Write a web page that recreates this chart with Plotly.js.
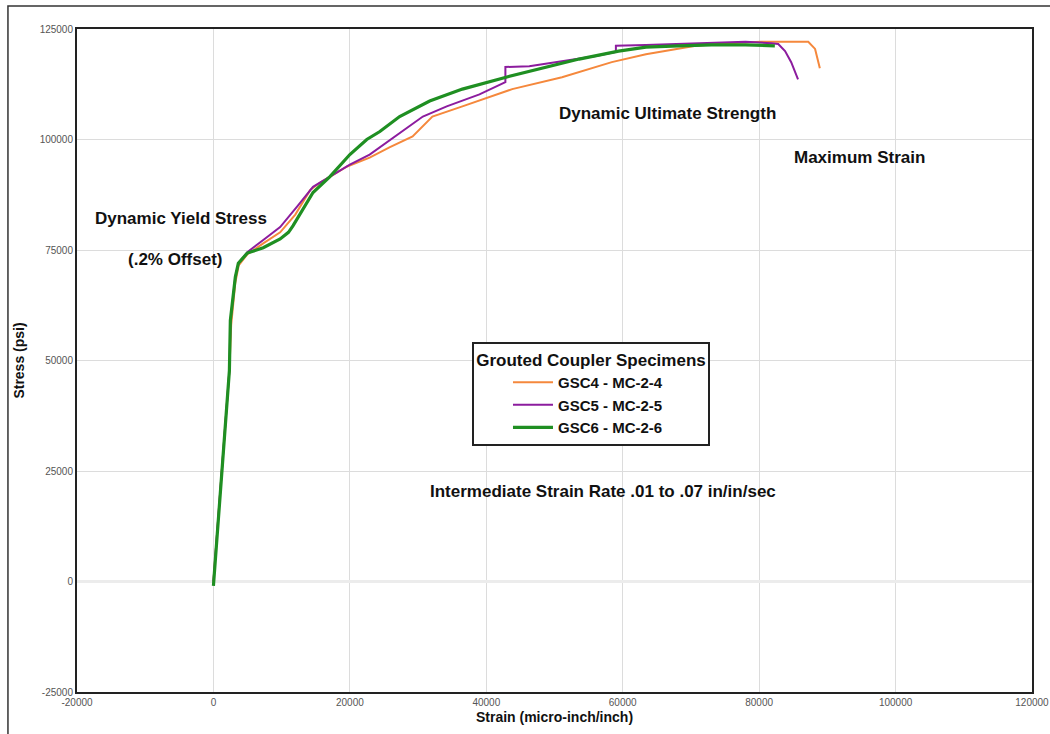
<!DOCTYPE html>
<html>
<head>
<meta charset="utf-8">
<script src="https://cdn.plot.ly/plotly-3.0.1.min.js"></script>
<style>
html,body{margin:0;padding:0;background:#fff;}
#chart{width:1050px;height:734px;}
</style>
</head>
<body>
<div id="chart"></div>
<script>
// Series names
const seriesNames = ["GSC4 - MC-2-4", "GSC5 - MC-2-5", "GSC6 - MC-2-6"];

// GSC4 - MC-2-4 (orange)
const gsc4Strain = [0, 700, 1460, 2340, 2600, 3200, 3700, 4960, 7300, 9780, 12000, 14200, 15600, 19600, 22900, 25800, 29200, 32100, 36500, 43800, 51100, 58400, 63400, 66700, 70700, 75500, 80300, 85300, 87200, 88200, 88600, 88900];
const gsc4Stress = [0, 14000, 29500, 47700, 58000, 67500, 71500, 74000, 76500, 79000, 83000, 88600, 90200, 93900, 95900, 98200, 100700, 105200, 107500, 111400, 114100, 117500, 119300, 120200, 121200, 121800, 122100, 122100, 122100, 120500, 118200, 116100];

// GSC5 - MC-2-5 (purple)
const gsc5Strain = [0, 700, 1460, 2340, 2500, 3200, 3700, 4960, 7500, 9780, 12260, 14600, 17080, 20000, 22900, 25000, 27500, 30700, 34200, 39000, 42800, 42800, 46300, 51100, 56100, 59000, 59000, 63400, 68200, 73000, 78000, 81800, 82800, 83800, 84700, 85700];
const gsc5Stress = [0, 14000, 29500, 47700, 59000, 68900, 72000, 74500, 77500, 80200, 84800, 89300, 91600, 94300, 96600, 98900, 101600, 105200, 107500, 110200, 113000, 116400, 116600, 117700, 118900, 119800, 121200, 121400, 121600, 121800, 122100, 121800, 121600, 120000, 117500, 113600];

// GSC6 - MC-2-6 (green)
const gsc6Strain = [0, 700, 1460, 2340, 2480, 3210, 3650, 4960, 7300, 9780, 11000, 11680, 14600, 17080, 20000, 22480, 24400, 27300, 31700, 36500, 42900, 48800, 53600, 59400, 63400, 68200, 73000, 78000, 82300];
const gsc6Stress = [-1000, 14000, 29500, 47700, 59100, 68900, 72000, 74300, 75500, 77500, 79000, 80500, 88000, 91600, 96600, 100000, 101800, 105200, 108700, 111400, 114100, 116400, 118200, 120000, 120900, 121200, 121400, 121400, 121200];

// Axis ticks
const xTicks = [-20000, 0, 20000, 40000, 60000, 80000, 100000, 120000];
const yTicks = [-25000, 0, 25000, 50000, 75000, 100000, 125000];

const lineColors = ["#f5883c", "#8c1c9e", "#1f8f22"];
const lineWidths = [2, 2, 3.2];

const xs = [gsc4Strain, gsc5Strain, gsc6Strain];
const ys = [gsc4Stress, gsc5Stress, gsc6Stress];

const traces = seriesNames.map((n, i) => ({
  type: "scatter",
  mode: "lines",
  name: n,
  x: xs[i],
  y: ys[i],
  line: {color: lineColors[i], width: lineWidths[i]}
}));

const FONT = "Liberation Sans, Arial, Helvetica, sans-serif";
const TICKFONT = "Liberation Sans Narrow, Arial Narrow, Liberation Sans, Arial, sans-serif";

const annFont = {family: FONT, size: 17, color: "#111"};
function ann(text, x, y) {
  return {text: "<b>" + text + "</b>", x: x, y: y, xref: "paper", yref: "paper",
          showarrow: false, xanchor: "center", yanchor: "middle", font: annFont};
}

const layout = {
  width: 1050,
  height: 734,
  margin: {l: 77, r: 18, t: 29, b: 42},
  paper_bgcolor: "#ffffff",
  plot_bgcolor: "#ffffff",
  showlegend: true,
  xaxis: {
    range: [-20000, 120000],
    tickvals: xTicks,
    ticktext: xTicks.map(String),
    showgrid: true,
    gridcolor: "#dcdcdc",
    gridwidth: 1,
    zeroline: false,
    showline: true,
    mirror: true,
    linecolor: "#222",
    linewidth: 2,
    ticks: "",
    tickfont: {family: TICKFONT, size: 10, color: "#555"},
    title: {text: "<b>Strain (micro-inch/inch)</b>", font: {family: FONT, size: 14, color: "#111"}, standoff: 5}
  },
  yaxis: {
    range: [-25000, 125000],
    tickvals: yTicks,
    ticktext: yTicks.map(String),
    showgrid: true,
    gridcolor: "#dcdcdc",
    gridwidth: 1,
    zeroline: true,
    zerolinecolor: "#ececec",
    zerolinewidth: 3,
    showline: true,
    mirror: true,
    linecolor: "#222",
    linewidth: 2,
    ticks: "",
    tickfont: {family: TICKFONT, size: 10, color: "#555"},
    title: {text: "<b>Stress (psi)</b>", font: {family: FONT, size: 14, color: "#111"}, standoff: 12}
  },
  legend: {
    x: 0.4136,
    y: 0.5279,
    xanchor: "left",
    yanchor: "top",
    bgcolor: "#ffffff",
    bordercolor: "#222",
    borderwidth: 2,
    indentation: 34,
    itemwidth: 40,
    tracegroupgap: 0,
    font: {family: FONT, size: 15, color: "#111", weight: "bold"},
    title: {text: "<b>Grouted Coupler Specimens</b>", side: "top center", font: {family: FONT, size: 17, color: "#111"}}
  },
  annotations: [
    ann("Dynamic Yield Stress", 0.1089, 0.7149),
    ann("(.2% Offset)", 0.1021, 0.6516),
    ann("Dynamic Ultimate Strength", 0.6183, 0.8718),
    ann("Maximum Strain", 0.8194, 0.8069),
    ann("Intermediate Strain Rate .01 to .07 in/in/sec", 0.5508, 0.3017)
  ],
  shapes: [
    {type: "rect", xref: "paper", yref: "paper", x0: -0.0723, y0: -0.2, x1: 1.2, y1: 1.0347,
     line: {color: "#333", width: 1.5}, fillcolor: "rgba(0,0,0,0)", layer: "below"}
  ]
};

Plotly.newPlot("chart", traces, layout, {displayModeBar: false, staticPlot: true});
</script>
</body>
</html>
